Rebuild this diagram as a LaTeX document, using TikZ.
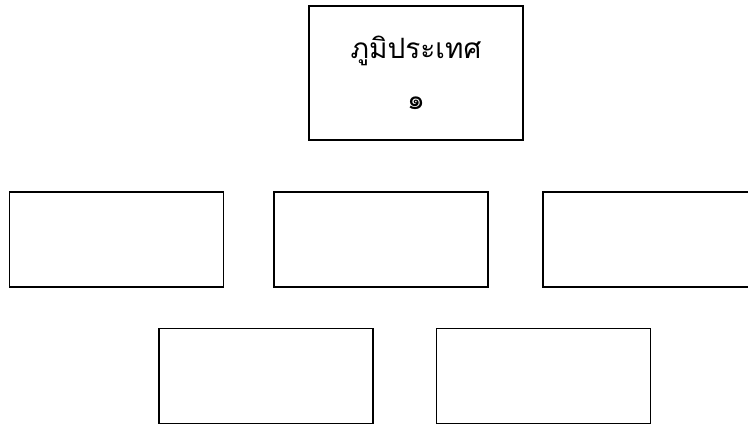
\documentclass[tikz,border=0pt]{standalone}
\usepackage{fontspec}
\newfontfamily\thaifont[Script=Thai]{Loma}
\begin{document}
\begin{tikzpicture}[x=0.75pt,y=-0.75pt]
\tikzstyle{boite} = [draw,line width=1.2pt,minimum width=160.5pt,minimum height=71.25pt,inner sep=0pt] %cases vides
\useasboundingbox (0,0) rectangle (748,425);

%case du haut
\node[boite,minimum height=100.5pt,align=center,font=\thaifont\fontsize{21}{38}\selectfont] (titre) at (416,73) {ภูมิประเทศ\\๑};

%deuxieme rangee
\node[boite] (ga) at (116.5,239.5) {};
\node[boite] (mi) at (381,239.5) {};
\node[boite] (dr) at (650,239.5) {};

%troisieme rangee
\node[boite] (bg) at (266,376) {};
\node[boite] (bd) at (543.5,376) {};
\end{tikzpicture}
\end{document}
